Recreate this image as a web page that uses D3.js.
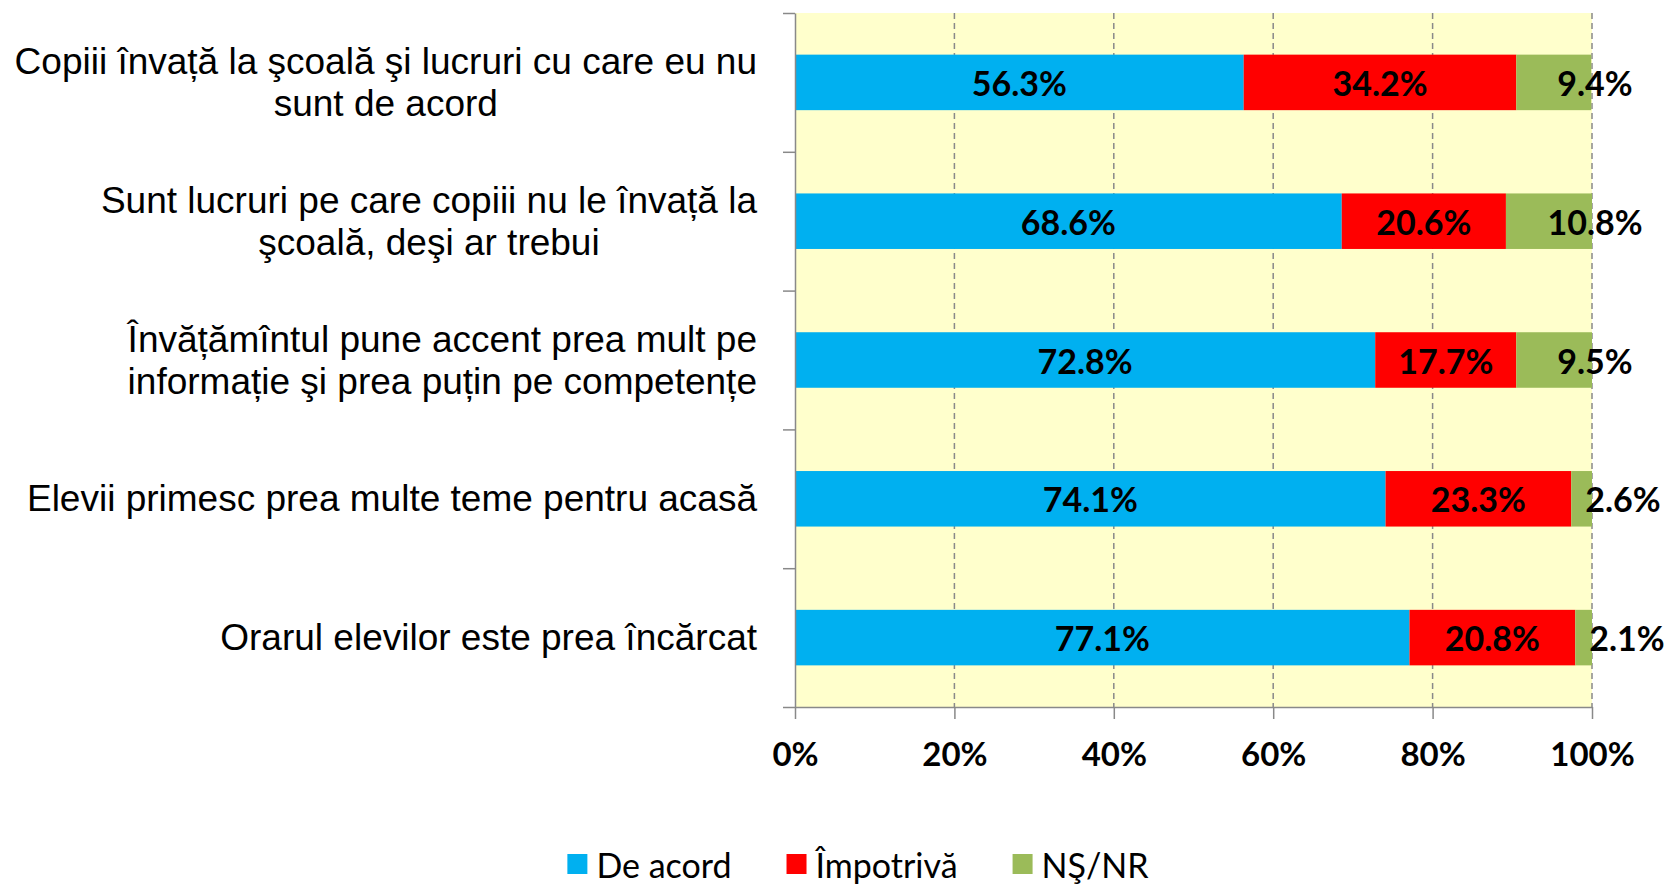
<!DOCTYPE html>
<html>
<head>
<meta charset="utf-8">
<script src="https://cdn.jsdelivr.net/npm/d3@7"></script>
<style>
  body { margin: 0; background: #fff; }
  .cat { font-family: "Liberation Sans", Arial, sans-serif; font-size: 37px; fill: #000; }
  .val { font-family: Lato, "Open Sans", sans-serif; font-weight: 700; font-size: 34px; fill: #000; }
  .axis text { font-family: Lato, "Open Sans", sans-serif; font-weight: 700; font-size: 33px; fill: #000; }
  .legend text { font-family: Lato, "Open Sans", sans-serif; font-size: 34px; fill: #000; }
</style>
</head>
<body>
<div class="canvas"></div>
<script>
const categories = [
  ["Copiii învață la şcoală şi lucruri cu care eu nu", "sunt de acord"],
  ["Sunt lucruri pe care copiii nu le învață la", "şcoală, deşi ar trebui"],
  ["Învățămîntul pune accent prea mult pe", "informație şi prea puțin pe competențe"],
  ["Elevii primesc prea multe teme pentru acasă"],
  ["Orarul elevilor este prea încărcat"],
];
const seriesNames = ["De acord", "Împotrivă", "NŞ/NR"];
const deAcord = [56.3, 68.6, 72.8, 74.1, 77.1];
const impotriva = [34.2, 20.6, 17.7, 23.3, 20.8];
const nsnr = [9.4, 10.8, 9.5, 2.6, 2.1];
const xTicks = [0, 20, 40, 60, 80, 100];

setup();

function setup() {
  const width = 1673;
  const height = 888;
  const margin = { top: 13, right: 81, bottom: 181, left: 795 };
  const colors = ["#00B0F0", "#FF0000", "#9BBB59"];
  const gray = "#898989";

  const rows = categories.map((c, i) => ({
    i: i,
    [seriesNames[0]]: deAcord[i],
    [seriesNames[1]]: impotriva[i],
    [seriesNames[2]]: nsnr[i],
  }));
  const stacked = d3.stack().keys(seriesNames)(rows);

  const x = d3.scaleLinear().domain([0, 100]).range([margin.left, width - margin.right]);
  const y = d3
    .scaleBand()
    .domain(d3.range(categories.length))
    .range([margin.top, height - margin.bottom])
    .paddingInner(0.6)
    .paddingOuter(0.3);
  const yEdge = d3
    .scaleLinear()
    .domain([0, categories.length])
    .range([margin.top, height - margin.bottom]);

  const svg = d3
    .select(".canvas")
    .append("svg")
    .attr("width", width)
    .attr("height", height);

  // plot background
  svg
    .append("rect")
    .attr("x", x(0))
    .attr("y", margin.top)
    .attr("width", x(100) - x(0))
    .attr("height", height - margin.bottom - margin.top)
    .attr("fill", "#FFFFCC");

  // dashed gridlines
  svg
    .append("g")
    .selectAll("line")
    .data(xTicks.slice(1))
    .enter()
    .append("line")
    .attr("x1", (d) => x(d))
    .attr("x2", (d) => x(d))
    .attr("y1", margin.top)
    .attr("y2", height - margin.bottom)
    .attr("stroke", gray)
    .attr("stroke-width", 1.5)
    .attr("stroke-dasharray", "6,4");

  // bars
  const layers = svg
    .append("g")
    .selectAll("g")
    .data(stacked)
    .enter()
    .append("g")
    .attr("fill", (d, i) => colors[i]);

  layers
    .selectAll("rect")
    .data((d) => d)
    .enter()
    .append("rect")
    .attr("x", (d) => x(d[0]))
    .attr("y", (d) => y(d.data.i))
    .attr("width", (d) => x(d[1]) - x(d[0]))
    .attr("height", y.bandwidth());

  // value labels
  stacked.forEach((layer, k) => {
    layer.forEach((d) => {
      const v = d[1] - d[0];
      const t = svg
        .append("text")
        .attr("class", "val")
        .attr("text-anchor", "middle")
        .attr("dominant-baseline", "central")
        .attr("y", y(d.data.i) + y.bandwidth() / 2)
        .text(v.toFixed(1) + "%");
      let cx = (x(d[0]) + x(d[1])) / 2;
      if (k === 2) {
        // small segments: label pushed just past the bar end
        const w = t.node().getComputedTextLength();
        cx = Math.max(x(100) + 3, x(d[0]) + w / 2 + 14);
      }
      t.attr("x", cx);
    });
  });

  // axes
  const yAxis = svg
    .append("g")
    .attr("class", "axis")
    .attr("transform", `translate(${x(0)},0)`)
    .call(d3.axisLeft(yEdge).tickValues(d3.range(categories.length + 1)).tickFormat("").tickSize(12).tickSizeOuter(0));
  yAxis.selectAll("line, path").attr("stroke", gray).attr("stroke-width", 1.5);

  const xAxis = svg
    .append("g")
    .attr("class", "axis")
    .attr("transform", `translate(0,${height - margin.bottom})`)
    .call(
      d3
        .axisBottom(x)
        .tickValues(xTicks)
        .tickFormat((d) => d + "%")
        .tickSize(12)
        .tickSizeOuter(0)
        .tickPadding(24)
    );
  xAxis.selectAll("line, path").attr("stroke", gray).attr("stroke-width", 1.5);
  yAxis.attr("font-family", null).attr("font-size", null);
  xAxis.attr("font-family", null).attr("font-size", null);

  // category labels: block right aligned, lines centred in block
  const labelRight = 757;
  const lineH = 42;
  categories.forEach((lines, i) => {
    const g = svg.append("g");
    const cy = y(i) + y.bandwidth() / 2;
    const texts = lines.map((l, j) =>
      g
        .append("text")
        .attr("class", "cat")
        .attr("text-anchor", "middle")
        .attr("dominant-baseline", "central")
        .attr("y", cy + (j - (lines.length - 1) / 2) * lineH)
        .text(l)
    );
    const maxW = d3.max(texts, (t) => t.node().getComputedTextLength());
    texts.forEach((t) => t.attr("x", labelRight - maxW / 2));
  });

  // legend
  const legend = svg.append("g").attr("class", "legend");
  let lx = 0;
  seriesNames.forEach((name, i) => {
    const item = legend.append("g").attr("transform", `translate(${lx},0)`);
    item.append("rect").attr("x", 0).attr("y", -10).attr("width", 20).attr("height", 20).attr("fill", colors[i]);
    const t = item.append("text").attr("x", 29).attr("y", 0).attr("dominant-baseline", "central").text(name);
    lx += 29 + t.node().getComputedTextLength() + 55;
  });
  const legendW = lx - 55;
  legend.attr("transform", `translate(${858 - legendW / 2},864)`);
}
</script>
</body>
</html>
